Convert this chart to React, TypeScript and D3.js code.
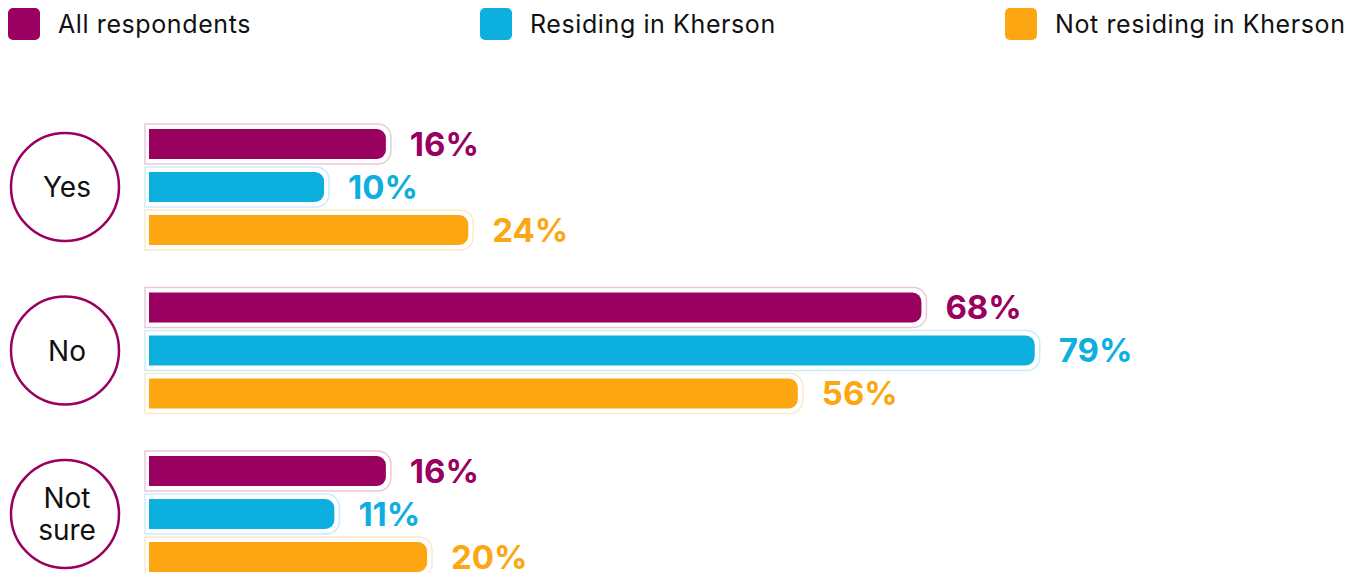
import * as d3 from 'd3'

const width = 1361
const height = 573

const answers = ['Yes', 'No', 'Not sure']
const seriesNames = ['All respondents', 'Residing in Kherson', 'Not residing in Kherson']
const allRespondents = [16, 68, 16]
const residing = [10, 79, 11]
const notResiding = [24, 56, 20]

const colors = ['#990060', '#0DAFDF', '#FCA711']
const outlineColors = ['#EBC9DD', '#C9EDF8', '#FDE9C6']

const font = 'Inter, "Noto Sans", sans-serif'

// bar with square left side and rounded right corners
function barPath(x0: number, x1: number, y: number, h: number, r: number) {
  const rr = Math.min(r, (x1 - x0) / 2, h / 2)
  return `M${x0},${y}H${x1 - rr}A${rr},${rr} 0 0 1 ${x1},${y + rr}V${y + h - rr}A${rr},${rr} 0 0 1 ${x1 - rr},${y + h}H${x0}Z`
}

export default function App() {
  const series = [allRespondents, residing, notResiding]

  const x = d3.scaleLinear().domain([-7, 80]).range([149, 1045])

  const groupY = d3.scalePoint().domain(answers).range([187, 514])
  const barY = d3.scalePoint().domain(seriesNames).range([-43, 43])

  const legendX = d3.scaleOrdinal<string, number>().domain(seriesNames).range([8, 480, 1005])

  const barH = 30

  return (
    <svg
      width={width}
      height={height}
      style={{ position: 'absolute', left: 0, top: 0, background: '#fff' }}
    >
      {seriesNames.map((name, i) => (
        <g key={name} transform={`translate(${legendX(name)},8)`}>
          <rect width={32} height={32} rx={5} fill={colors[i]} />
          <text
            x={50}
            y={16}
            dy="0.36em"
            fontFamily={font}
            fontSize={25}
            letterSpacing={0.6}
            fill="#111"
          >
            {name}
          </text>
        </g>
      ))}

      {answers.map((answer, gi) => {
        const cy = groupY(answer)!
        const lines = answer === 'Not sure' ? ['Not', 'sure'] : [answer]
        return (
          <g key={answer}>
            <circle cx={65} cy={cy} r={54} fill="none" stroke="#990060" strokeWidth={2.5} />
            {lines.map((l, li) => (
              <text
                key={l}
                x={67}
                y={cy + (li - (lines.length - 1) / 2) * 32}
                dy="0.36em"
                textAnchor="middle"
                fontFamily={font}
                fontSize={28}
                fill="#111"
              >
                {l}
              </text>
            ))}
            {seriesNames.map((name, si) => {
              const v = series[si][gi]
              const yc = cy + barY(name)!
              const x0 = x(-7)
              const x1 = x(v)
              return (
                <g key={name}>
                  <path
                    d={barPath(x0 - 4, x1 + 5, yc - barH / 2 - 5, barH + 10, 13)}
                    fill="#fff"
                    stroke={outlineColors[si]}
                    strokeWidth={1.5}
                  />
                  <path d={barPath(x0, x1, yc - barH / 2, barH, 9)} fill={colors[si]} />
                  <text
                    x={x1 + 24}
                    y={yc}
                    dy="0.36em"
                    fontFamily={font}
                    fontWeight={700}
                    fontSize={33}
                    fill={colors[si]}
                  >
                    {v}%
                  </text>
                </g>
              )
            })}
          </g>
        )
      })}
    </svg>
  )
}
